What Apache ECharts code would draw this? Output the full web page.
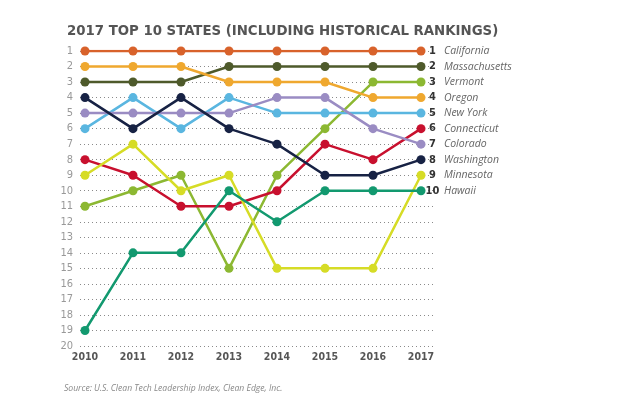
<!DOCTYPE html>
<html>
<head>
<meta charset="utf-8">
<script src="https://cdn.jsdelivr.net/npm/echarts@6/dist/echarts.min.js"></script>
<style>
  html, body { margin: 0; padding: 0; background: #fff; }
  #chart { width: 626px; height: 418px; }
</style>
</head>
<body>
<div id="chart"></div>
<script>
// rankings, 2010..2017
const years = [2010, 2011, 2012, 2013, 2014, 2015, 2016, 2017];
const rankTicks = [1, 2, 3, 4, 5, 6, 7, 8, 9, 10, 11, 12, 13, 14, 15, 16, 17, 18, 19, 20];

const california    = [1, 1, 1, 1, 1, 1, 1, 1];
const massachusetts = [3, 3, 3, 2, 2, 2, 2, 2];
const vermont       = [11, 10, 9, 15, 9, 6, 3, 3];
const oregon        = [2, 2, 2, 3, 3, 3, 4, 4];
const newYork       = [6, 4, 6, 4, 5, 5, 5, 5];
const connecticut   = [8, 9, 11, 11, 10, 7, 8, 6];
const colorado      = [5, 5, 5, 5, 4, 4, 6, 7];
const washington    = [4, 6, 4, 6, 7, 9, 9, 8];
const minnesota     = [9, 7, 10, 9, 15, 15, 15, 9];
const hawaii        = [19, 14, 14, 10, 12, 10, 10, 10];

const states = [
  { name: 'California',    data: california,    color: '#d8622b' },
  { name: 'Massachusetts', data: massachusetts, color: '#4e5a2b' },
  { name: 'Vermont',       data: vermont,       color: '#8cb832' },
  { name: 'Oregon',        data: oregon,        color: '#efa82f' },
  { name: 'New York',      data: newYork,       color: '#5ab6e0' },
  { name: 'Connecticut',   data: connecticut,   color: '#c8102e' },
  { name: 'Colorado',      data: colorado,      color: '#9a8cc3' },
  { name: 'Washington',    data: washington,    color: '#172244' },
  { name: 'Minnesota',     data: minnesota,     color: '#d6dc26' },
  { name: 'Hawaii',        data: hawaii,        color: '#12996f' }
];

const chart = echarts.init(document.getElementById('chart'));

const series = states.map(function (s) {
  const last = s.data[s.data.length - 1];
  return {
    name: s.name,
    type: 'line',
    data: years.map(function (y, i) { return [y, s.data[i]]; }),
    symbol: 'circle',
    symbolSize: 9,
    color: s.color,
    lineStyle: { width: 2.5, color: s.color },
    itemStyle: { color: s.color },
    emphasis: { disabled: true },
    endLabel: {
      show: true,
      distance: 0,
      formatter: '{n|' + last + '}{s|' + s.name + '}',
      rich: {
        n: { fontFamily: 'DejaVu Sans Condensed', fontWeight: 'bold', fontSize: 11, color: '#333', width: 23, align: 'right' },
        s: { fontFamily: 'Open Sans', fontStyle: 'italic', fontSize: 10.5, color: '#666' }
      }
    }
  };
});

chart.setOption({
  animation: false,
  title: [
    {
      text: '2017 TOP 10 STATES (INCLUDING HISTORICAL RANKINGS)',
      left: 62, top: 19,
      textStyle: { fontFamily: 'DejaVu Sans Condensed', fontWeight: 'bold', fontSize: 14.8, color: '#555' }
    },
    {
      text: 'Source: U.S. Clean Tech Leadership Index, Clean Edge, Inc.',
      left: 59, top: 379,
      textStyle: { fontFamily: 'Open Sans', fontStyle: 'italic', fontWeight: 'normal', fontSize: 8.6, color: '#888' }
    }
  ],
  grid: { left: 80, right: 193, top: 51, bottom: 72 },
  xAxis: {
    type: 'value',
    min: 2010 - 5 / 48,
    max: 2017.25,
    axisLine: { show: false },
    axisTick: { show: false },
    splitLine: { show: false },
    axisLabel: {
      customValues: years,
      margin: 6,
      fontFamily: 'DejaVu Sans Condensed', fontWeight: 'bold', fontSize: 10.5, color: '#555',
      formatter: function (v) { return String(v); }
    }
  },
  yAxis: {
    type: 'value',
    inverse: true,
    min: 1,
    max: 20,
    interval: 1,
    axisLine: { show: false },
    axisTick: { show: false },
    axisLabel: {
      customValues: rankTicks,
      margin: 7,
      fontFamily: 'DejaVu Sans Condensed', fontSize: 11, color: '#999'
    },
    splitLine: { show: true, lineStyle: { color: '#8a8a8a', width: 1, type: [1, 3] } }
  },
  series: series
});
</script>
</body>
</html>
